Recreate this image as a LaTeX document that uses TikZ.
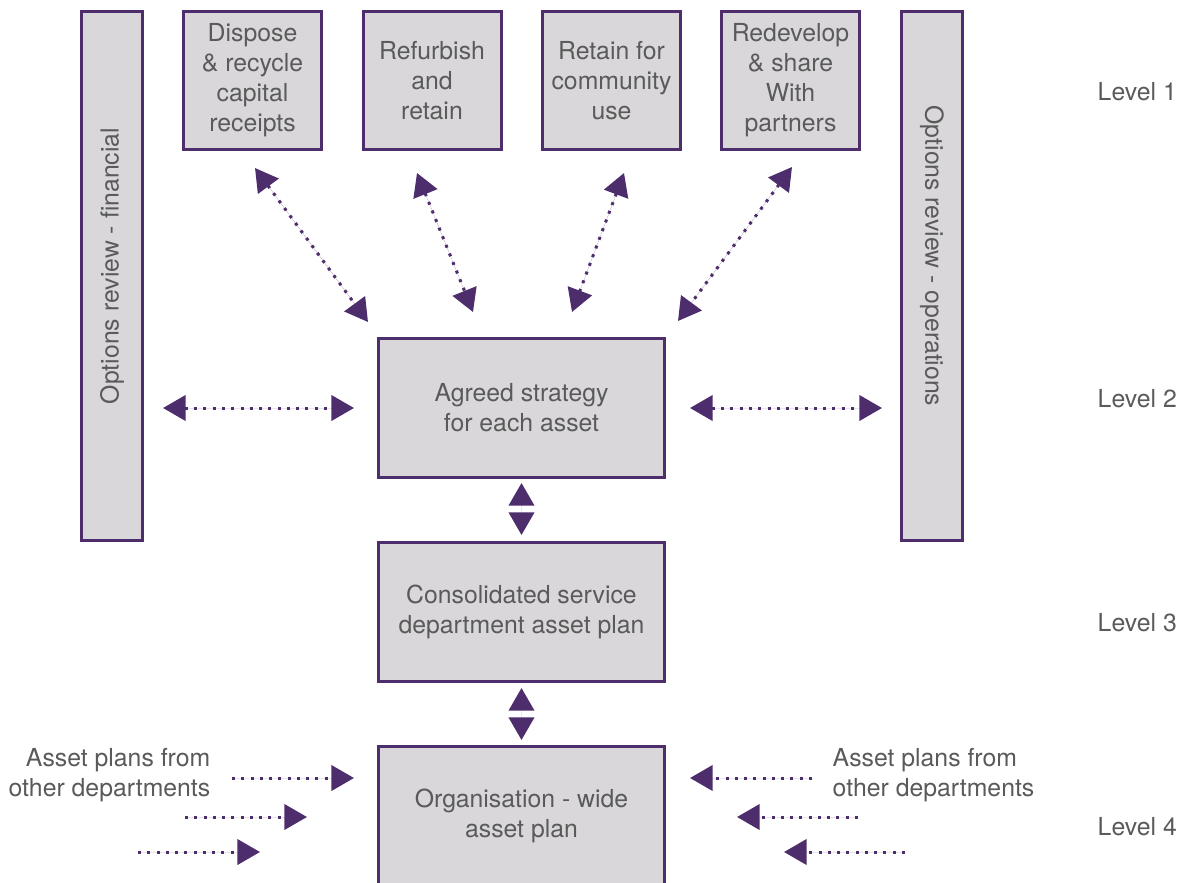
\documentclass[tikz,border=0pt]{standalone}
\usepackage{fontspec}
\setmainfont{TeX Gyre Heros}
\usetikzlibrary{arrows.meta,calc}
\definecolor{plum}{RGB}{77,45,107}
\definecolor{boxgrey}{RGB}{217,215,218}
\definecolor{inkgrey}{RGB}{90,90,90}
\tikzset{
  txt/.style={font=\fontsize{18.6pt}{22.5pt}\selectfont, text=inkgrey, align=center},
  panel/.style={txt, draw=plum, fill=boxgrey, line width=2.25pt, inner sep=0pt},
  optbox/.style={panel, minimum width=103.5pt, minimum height=103.5pt},
  planbox/.style={panel, minimum width=214.5pt, minimum height=104.25pt},
  sidebar/.style={panel, minimum width=396.75pt, minimum height=45.75pt},
  headtip/.tip={Triangle[length=17pt, width=19pt]},
  dots/.style={draw=plum, fill=plum, line width=2.25pt, dash pattern=on 2.25pt off 4.7pt},
  twoway/.style={dots, headtip-headtip},
  oneway/.style={dots, -headtip},
  tipsonly/.style={draw=plum, fill=plum, line width=2.25pt, line cap=butt, dash pattern=on 0pt off 200pt, headtip-headtip},
  lvl/.style={txt, anchor=west}
}
\begin{document}
\begin{tikzpicture}[x=0.75pt, y=-0.75pt]
\useasboundingbox (0,0) rectangle (1178,882);

% side bars (rotate=90: south faces right; rotate=-90: south faces left)
\node[sidebar, rotate=90] (fin) at (112,276) {\hspace*{15pt}Options review - financial};
\node[sidebar, rotate=-90] (ops) at (932,276) {Options review - operations\hspace*{30pt}};

% option boxes along the top
\node[optbox] (dispose) at (252.5,80.5) {Dispose\\ \& recycle\\ capital\\ receipts};
\node[optbox] (refurb) at (432,80.5) {Refurbish\\ and\\ retain};
\node[optbox] (retain) at (611.5,80.5) {Retain for\\ community\\ use};
\node[optbox] (redev) at (790.5,80.5) {Redevelop\\ \& share\\ With\\ partners};

% plan boxes down the middle
\node[planbox] (agreed) at (521.5,408) {Agreed strategy\\ for each asset};
\node[planbox] (consol) at (521.5,612) {Consolidated service\\ department asset plan};
\node[planbox] (org) at (521.5,816) {Organisation - wide\\ asset plan};

% level labels
\node[lvl] (l1) at (1093,92) {Level 1};
\node[lvl] (l2) at (1093,399) {Level 2};
\node[lvl] (l3) at (1093,623) {Level 3};
\node[lvl] (l4) at (1093,827) {Level 4};

% incoming plans
\node[txt, align=right, anchor=east] (inl) at (215,775) {Asset plans from\\ other departments};
\node[txt, align=left, anchor=west] (inr) at (828,775) {Asset plans from\\ other departments};

% ends of the diagonal links
\coordinate (d1a) at (255,168);  \coordinate (d1b) at (368,322);
\coordinate (d2a) at (417,173);  \coordinate (d2b) at (473,312);
\coordinate (d3a) at (624,173);  \coordinate (d3b) at (572,312);
\coordinate (d4a) at (792,167);  \coordinate (d4b) at (678,321);

\draw[twoway] (d1a) -- (d1b);
\draw[twoway] (d2a) -- (d2b);
\draw[twoway] (d3a) -- (d3b);
\draw[twoway] (d4a) -- (d4b);

% links to the review bars
\draw[twoway, shorten <=14.25pt, shorten >=17.25pt] (fin.south |- agreed.west) -- (agreed.west);
\draw[twoway, shorten <=18pt, shorten >=13.5pt] (agreed.east) -- (ops.south |- agreed.east);

% links between levels
\draw[tipsonly, shorten <=3pt, shorten >=4.5pt] (agreed.south) -- (consol.north);
\draw[tipsonly, shorten <=3.75pt, shorten >=3.75pt] (consol.south) -- (org.north);

% plans arriving from other departments
\coordinate (a1) at (232,778);  \coordinate (a2) at (185,817);  \coordinate (a3) at (138,852);
\coordinate (a2t) at (307,817); \coordinate (a3t) at (260,852);
\coordinate (b1) at (812,778);  \coordinate (b2) at (858,817);  \coordinate (b3) at (905,852);
\coordinate (b2t) at (737,817); \coordinate (b3t) at (784,852);

\draw[oneway, shorten >=17.25pt] (a1) -- (a1 -| org.west);
\draw[oneway] (a2) -- (a2t);
\draw[oneway] (a3) -- (a3t);
\draw[oneway, shorten >=18pt] (b1) -- (b1 -| org.east);
\draw[oneway] (b2) -- (b2t);
\draw[oneway] (b3) -- (b3t);
\end{tikzpicture}
\end{document}
